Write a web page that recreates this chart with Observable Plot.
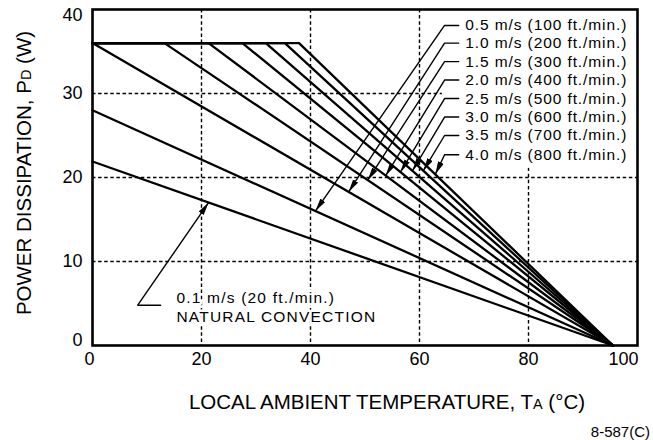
<!DOCTYPE html>
<html>
<head>
<meta charset="utf-8">
<script src="https://cdn.jsdelivr.net/npm/d3@7"></script>
<script src="https://cdn.jsdelivr.net/npm/@observablehq/plot@0.6"></script>
<style>
  body { margin: 0; background: #fff; }
  svg { display: block; }
</style>
</head>
<body>
<div id="chart"></div>
<script>
// ---- data ----
const airflow      = ["0.1 m/s", "0.5 m/s", "1.0 m/s", "1.5 m/s", "2.0 m/s", "2.5 m/s", "3.0 m/s", "3.5 m/s", "4.0 m/s"];
const startPower   = [21.9, 28.0, 36, 36, 36, 36, 36, 36, 36];        // W at the start of the derating segment
const kneeTemp     = [0, 0, 0, 13.2, 21.3, 27.5, 31.8, 35.3, 37.9];   // °C where the 36 W plateau ends
const plateauPower = 36;                                               // W
const zeroPowerTemp = 95.5;                                            // °C where every curve reaches 0 W

const legendText  = ["0.5 m/s (100 ft./min.)", "1.0 m/s (200 ft./min.)", "1.5 m/s (300 ft./min.)", "2.0 m/s (400 ft./min.)",
                     "2.5 m/s (500 ft./min.)", "3.0 m/s (600 ft./min.)", "3.5 m/s (700 ft./min.)", "4.0 m/s (800 ft./min.)"];
const legendPower = [38.1, 36.0, 33.8, 31.6, 29.4, 27.2, 25.0, 22.7];  // row heights of the labels (W)
const arrowTemp   = [40.9, 47.0, 50.5, 53.8, 56.5, 58.7, 60.7, 62.9];  // where each leader arrow meets its curve (°C)
const legendTextTemp = 68.4, legendTickFrom = 64.6, legendTickTo = 67.2;
const legendBox = [{x1: 64.2, x2: 100, y1: 21.1, y2: 40}];

const naturalText      = ["0.1 m/s (20 ft./min.)", "NATURAL CONVECTION"];
const naturalTextPower = [5.6, 3.35];
const naturalTextTemp  = 15.4;
const naturalTail      = {t1: 12.5, t0: 8.3, p: 4.8};
const naturalArrowTemp = 21.3;

const xTicks = [0, 20, 40, 60, 80, 100];
const yTicks = [0, 10, 20, 30, 40];

// ---- build tables ----
const curves = airflow.map((id, i) => {
  const pts = kneeTemp[i] > 0
    ? [{t: 0, p: plateauPower}, {t: kneeTemp[i], p: plateauPower}, {t: zeroPowerTemp, p: 0}]
    : [{t: 0, p: startPower[i]}, {t: zeroPowerTemp, p: 0}];
  return pts.map(d => ({id, ...d}));
});
const curveRows = curves.flat();

function powerAt(i, t) {
  const pts = curves[i];
  for (let k = 0; k < pts.length - 1; k++) {
    const a = pts[k], b = pts[k + 1];
    if (t >= a.t && t <= b.t) return a.p + (b.p - a.p) * (t - a.t) / (b.t - a.t);
  }
  return 0;
}

const leaders = [];
legendText.forEach((txt, j) => {
  const i = j + 1;
  leaders.push({id: txt, t: legendTickTo, p: legendPower[j]});
  leaders.push({id: txt, t: legendTickFrom, p: legendPower[j]});
  leaders.push({id: txt, t: arrowTemp[j], p: powerAt(i, arrowTemp[j])});
});
leaders.push({id: "nat", t: naturalTail.t1, p: naturalTail.p});
leaders.push({id: "nat", t: naturalTail.t0, p: naturalTail.p});
leaders.push({id: "nat", t: naturalArrowTemp, p: powerAt(0, naturalArrowTemp)});

const legendRows = legendText.map((txt, j) => ({txt, t: legendTextTemp, p: legendPower[j]}));
const naturalRows = naturalText.map((txt, j) => ({txt, t: naturalTextTemp, p: naturalTextPower[j]}));

const FONT = "'Liberation Sans', Arial, Helvetica, sans-serif";

const svg = Plot.plot({
  width: 653,
  height: 440,
  marginLeft: 92,
  marginRight: 16,
  marginTop: 9,
  marginBottom: 95,
  style: {fontFamily: FONT, color: "black", background: "white"},
  x: {domain: [0, 100]},
  y: {domain: [0, 40]},
  marks: [
    Plot.gridX([20, 40, 60, 80], {stroke: "black", strokeOpacity: 1, strokeWidth: 1.4, strokeDasharray: "3.5,2.6"}),
    Plot.gridY([10, 20, 30], {stroke: "black", strokeOpacity: 1, strokeWidth: 1.4, strokeDasharray: "3.5,2.6"}),
    Plot.rect(legendBox, {x1: "x1", x2: "x2", y1: "y1", y2: "y2", fill: "white"}),
    Plot.line(curveRows, {x: "t", y: "p", z: "id", stroke: "black", strokeWidth: 2.3, strokeLinejoin: "miter"}),
    Plot.line(leaders, {x: "t", y: "p", z: "id", stroke: "black", strokeWidth: 1.4, className: "leader"}),
    Plot.text(legendRows, {x: "t", y: "p", text: "txt", textAnchor: "start", fontSize: 15.5, fill: "black", className: "legend"}),
    Plot.text(naturalRows, {x: "t", y: "p", text: "txt", textAnchor: "start", fontSize: 15.5, fill: "black",
                            stroke: "white", strokeWidth: 5, paintOrder: "stroke", className: "natural"}),
    Plot.axisX([0], {tickSize: 0, tickPadding: 7, fontSize: 18, label: null, dx: -3}),
    Plot.axisX([20, 40, 60, 80], {tickSize: 0, tickPadding: 7, fontSize: 18, label: null}),
    Plot.axisX([100], {tickSize: 0, tickPadding: 7, fontSize: 18, label: null, dx: -14}),
    Plot.axisY([10, 20, 30], {tickSize: 0, tickPadding: 10, fontSize: 18, label: null}),
    Plot.axisY([40], {tickSize: 0, tickPadding: 10, fontSize: 18, label: null, dy: 6}),
    Plot.axisY([0], {tickSize: 0, tickPadding: 10, fontSize: 18, label: null, dy: -5}),
    Plot.frame({stroke: "black", strokeWidth: 2.6})
  ]
});

// filled arrowheads for the leader lines
const root = d3.select(svg);
const defs = root.insert("defs", ":first-child");
defs.append("marker")
  .attr("id", "ahead")
  .attr("viewBox", "0 -3 13 6")
  .attr("refX", 13).attr("refY", 0)
  .attr("markerWidth", 13).attr("markerHeight", 6)
  .attr("markerUnits", "userSpaceOnUse")
  .attr("orient", "auto")
  .append("path").attr("d", "M0,-3L13,0L0,3Z").attr("fill", "black");
root.selectAll("g.leader path").attr("marker-end", "url(#ahead)");
root.selectAll("g.legend text").attr("letter-spacing", "0.9px");
root.selectAll("g.natural text").attr("letter-spacing", "1.2px");

// axis titles and figure number
const yt = root.append("text")
  .attr("transform", "translate(30.5,173) rotate(-90)")
  .attr("text-anchor", "middle")
  .attr("font-family", FONT).attr("font-size", 20.5).attr("fill", "black");
yt.append("tspan").text("POWER DISSIPATION, P");
yt.append("tspan").attr("font-size", 14.5).text("D");
yt.append("tspan").text(" (W)");

const xt = root.append("text")
  .attr("x", 387).attr("y", 409)
  .attr("text-anchor", "middle")
  .attr("font-family", FONT).attr("font-size", 20.5).attr("fill", "black");
xt.append("tspan").text("LOCAL AMBIENT TEMPERATURE, T");
xt.append("tspan").attr("font-size", 14.5).text("A");
xt.append("tspan").text(" (°C)");

root.append("text")
  .attr("x", 650).attr("y", 437)
  .attr("text-anchor", "end")
  .attr("font-family", FONT).attr("font-size", 15).attr("fill", "black")
  .text("8-587(C)");

document.getElementById("chart").appendChild(svg);
</script>
</body>
</html>
